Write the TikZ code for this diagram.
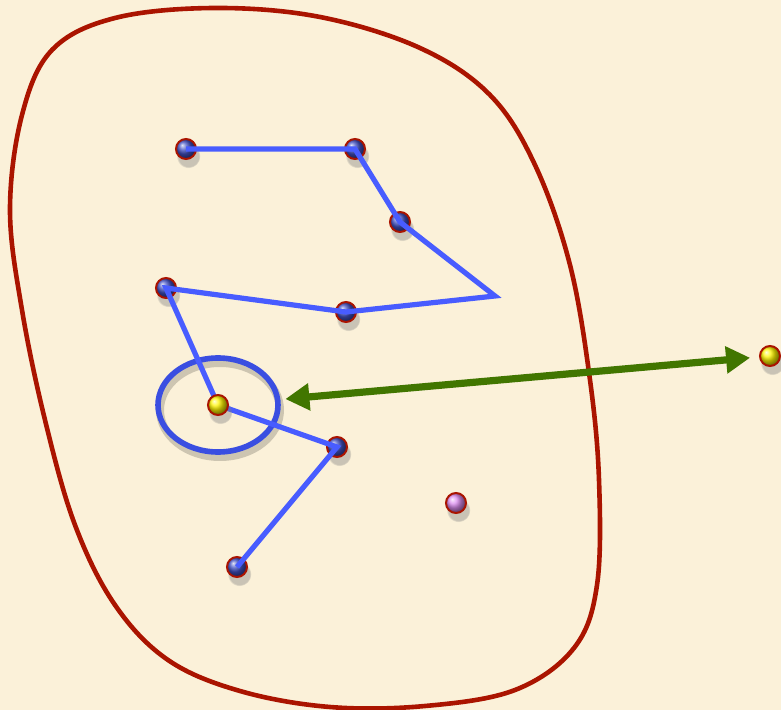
\documentclass[tikz,border=0pt]{standalone}
\usetikzlibrary{arrows.meta,shapes.geometric,shadows,fadings}
\definecolor{bg}{RGB}{251,241,217}
\definecolor{ringred}{RGB}{170,20,0}
\definecolor{pathblue}{RGB}{72,92,255}
\definecolor{ellblue}{RGB}{58,78,225}
\definecolor{arrgreen}{RGB}{65,118,0}
\definecolor{ballblue}{RGB}{65,80,195}
\definecolor{ballyellow}{RGB}{255,245,0}
\definecolor{ballpink}{RGB}{220,140,240}
\begin{document}
\begin{tikzpicture}[x=0.5pt,y=-0.5pt,
  dot/.style={circle, inner sep=0pt, minimum size=10pt, draw=ringred, line width=1pt,
    shading=ball, ball color=#1,
    circular drop shadow={shadow xshift=1pt, shadow yshift=-3pt, opacity=.4, shadow scale=1.2}},
  link/.style={draw=pathblue, line width=2.6pt},
  region/.style={draw=ringred, line width=2.3pt},
  ring/.style={ellipse, inner sep=0pt, draw=ellblue, line width=2.8pt, minimum width=120pt/2, minimum height=94pt/2},
  biarrow/.style={draw=arrgreen, line width=3.6pt,
    {Triangle[length=12pt,width=13pt]}-{Triangle[length=12pt,width=13pt]}}
]
\useasboundingbox (0,0) rectangle (781,710);
\fill[bg] (0,0) rectangle (781,710);

% region boundary
\draw[region] plot[smooth cycle, tension=0.6] coordinates {
  (10,210) (22,115) (52,50) (115,18) (215,8) (320,17) (420,48) (490,95)
  (535,165) (570,265) (590,380) (599,480) (597,585) (574,648) (515,690)
  (425,706) (330,707) (240,691) (168,660) (115,605) (75,525) (45,420) (22,310)};

% ring shadow and ring
\draw[black, opacity=.18, line width=4pt] (220,410) ellipse [x radius=60, y radius=47];
\node[ring] (ring) at (218,405) {};

% blue dots
\node[dot=ballblue] (d1) at (186,149) {};
\node[dot=ballblue] (d2) at (355,149) {};
\node[dot=ballblue] (d3) at (400,222) {};
\coordinate (bend) at (495,296);
\node[dot=ballblue] (d4) at (346,312) {};
\node[dot=ballblue] (d5) at (166,288) {};
\node[dot=ballblue] (d6) at (337,447) {};
\node[dot=ballblue] (d7) at (237,567) {};

% path
\draw[link] (d1.center) -- (d2.center) -- (d3.center) -- (bend) -- (d4.center)
  -- (d5.center) -- (218,405) -- (d6.center) -- (d7.center);

% special points
\node[dot=ballyellow] (y1) at (218,405) {};
\node[dot=ballpink] (p1) at (456,503) {};
\node[dot=ballyellow] (y2) at (770,356) {};

% double arrow
\draw[biarrow, shorten <=2.5pt, shorten >=4.5pt] (ring) -- (y2);
\end{tikzpicture}
\end{document}
